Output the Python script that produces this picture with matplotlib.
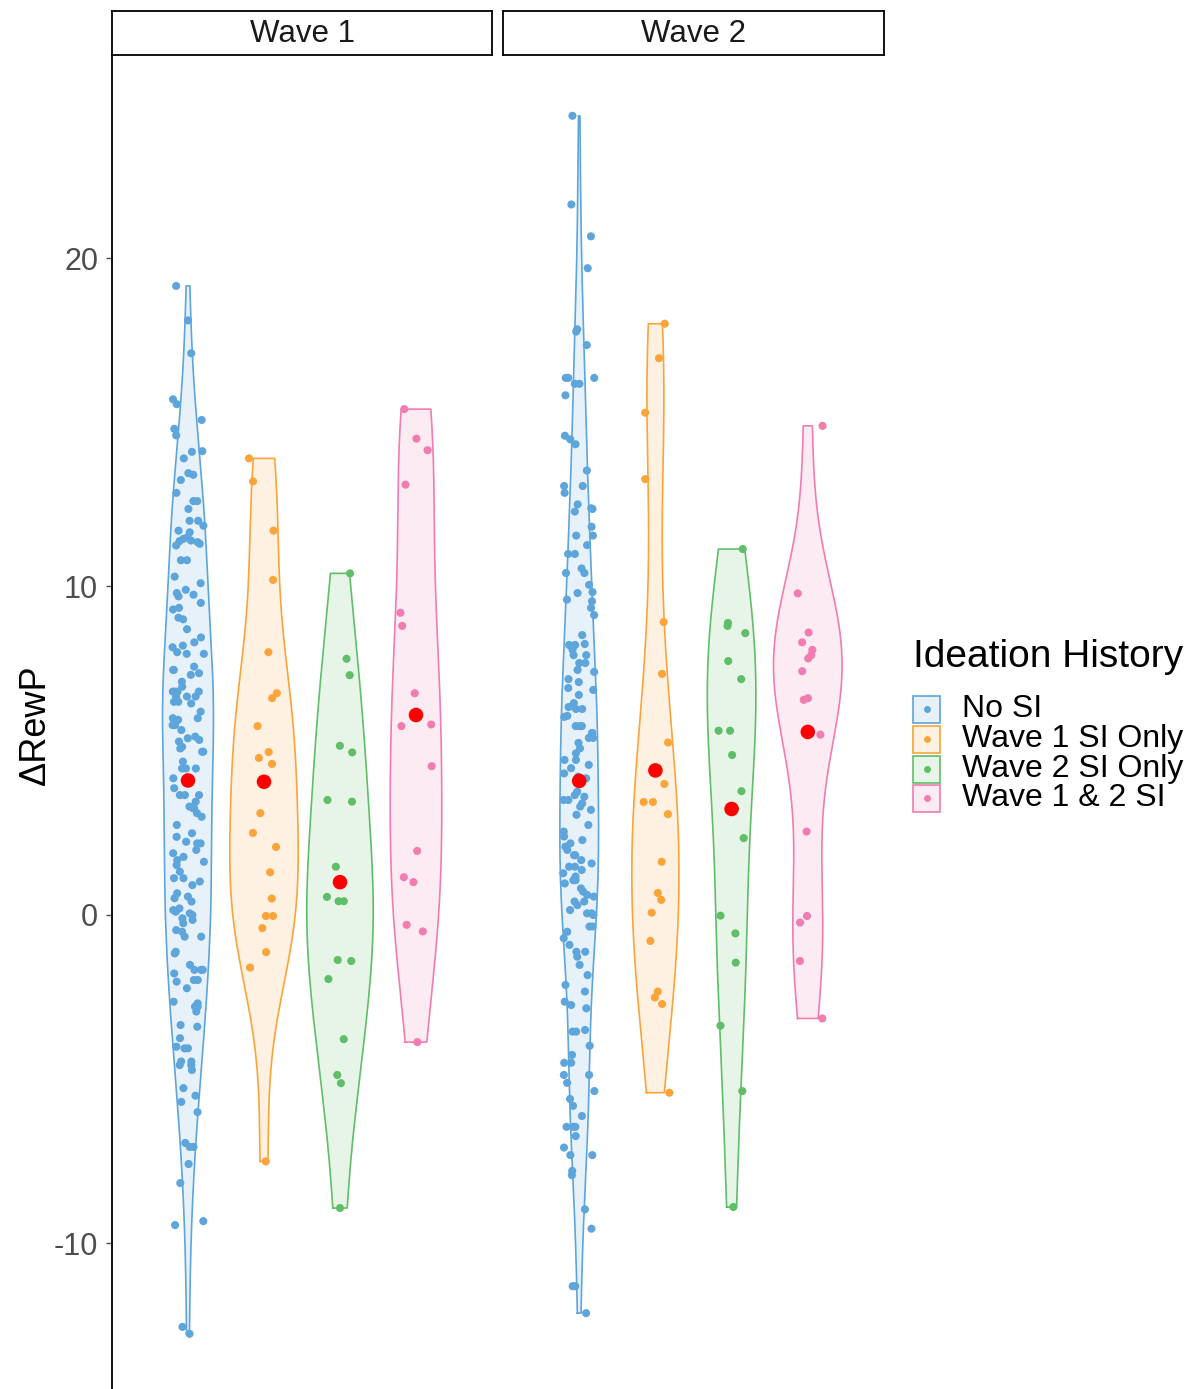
#
# Violin + jitter plot of delta RewP by ideation history, faceted by wave
#
import numpy as np
import matplotlib.pyplot as plt
from matplotlib.patches import Rectangle

plt.rcParams['font.family'] = ['Liberation Sans', 'DejaVu Sans']

# categories / facets
groups = ['No SI', 'Wave 1 SI Only', 'Wave 2 SI Only', 'Wave 1 & 2 SI']
colors = ['#5DA5DA', '#FAA43A', '#60BD68', '#F17CB0']
waves = ['Wave 1', 'Wave 2']
yticks = [-10, 0, 10, 20]

# Wave 1 values
w1_no_si = [19.15, 18.1, 17.1, 15.7, 15.55, 15.07, 14.8, 14.6, 14.12, 14.1, 13.9, 13.45, 13.4,
            13.24, 12.85, 12.6, 12.6, 12.36, 12.0, 12.0, 11.85, 11.7, 11.65, 11.5, 11.45, 11.4,
            11.38, 11.35, 11.3, 11.25, 10.8, 10.8, 10.3, 10.1, 9.9, 9.8, 9.75, 9.7, 9.5, 9.35,
            9.3, 9.05, 9.0, 8.7, 8.45, 8.3, 8.2, 8.15, 8.0, 7.95, 7.95,
            7.56, 7.46, 7.46, 7.36, 7.31, 7.10, 6.95, 6.80, 6.80, 6.80, 6.80, 6.65, 6.65, 6.65,
            6.49, 6.49, 6.44, 6.19, 5.99, 5.99, 5.94, 5.78, 5.78, 5.63, 5.43, 5.38, 5.33, 5.28,
            5.12, 5.07, 4.97, 4.97, 4.67, 4.46, 4.46, 4.46, 4.16, 3.86, 3.65, 3.65, 3.65, 3.45,
            3.30, 3.25, 3.25, 3.10, 2.99, 2.74, 2.49, 2.38, 2.23, 2.18, 2.18, 1.98, 1.88, 1.77,
            1.67, 1.62,
            1.52, 1.32, 1.12, 1.12, 1.02, 0.91, 0.66, 0.56, 0.51, 0.41, 0.20, 0.15, 0.10, 0.05,
            0.0, -0.10, -0.15, -0.25, -0.46, -0.51, -0.66, -0.66, -1.12, -1.17, -1.52, -1.67,
            -1.67, -1.67, -1.78, -1.98, -1.98, -2.03, -2.23, -2.64, -2.69, -2.79, -2.79, -2.94,
            -3.35, -3.40, -3.75, -4.01, -4.06, -4.06, -4.46, -4.46, -4.57, -4.57, -4.72,
            -5.27, -5.5, -5.69, -6.0, -6.94, -7.06, -7.06, -7.58, -8.16, -9.32, -9.44,
            -12.54, -12.75]
w1_w1_only = [13.9, 13.2, 11.7, 10.2, 8.0, 6.75, 6.6, 5.75, 4.96, 4.78, 4.6, 3.1, 2.5, 2.07,
              1.3, 0.5, -0.03, -0.03, -0.4, -1.13, -1.6, -7.5]
w1_w2_only = [10.4, 7.8, 7.3, 5.15, 4.95, 3.5, 3.45, 1.47, 0.55, 0.42, 0.42, -1.37, -1.4,
              -1.95, -3.78, -4.87, -5.12, -8.92]
w1_both = [15.4, 14.5, 14.15, 13.1, 9.2, 8.8, 6.75, 5.8, 5.75, 4.53, 1.95, 1.15, 1.0, -0.3,
           -0.5, -3.87]

# Wave 2 values
w2_no_si = [24.33, 21.63, 20.66, 19.69, 17.83, 17.76, 17.35, 16.35, 16.35, 16.35, 16.17,
            16.17, 15.82, 14.59, 14.48, 14.33, 13.53, 13.06, 13.06, 12.85, 12.5, 12.38, 12.36,
            12.28, 11.82, 11.55, 11.55, 11.26, 10.99, 10.99, 10.55, 10.41, 10.41,
            10.05, 9.83, 9.8, 9.6, 9.55, 9.35, 9.13, 8.52, 8.25, 8.22, 8.22, 8.07, 7.91, 7.91,
            7.67, 7.67, 7.46, 7.4, 7.18, 7.09, 6.91, 6.85, 6.7, 6.45, 6.33, 6.27, 6.27, 6.06,
            6.03, 5.75, 5.75, 5.75, 5.54, 5.54, 5.39, 5.39, 5.24,
            5.07, 4.92, 4.72, 4.72, 4.57, 4.47, 4.31, 4.21, 4.16, 3.75, 3.65, 3.6, 3.5, 3.5,
            3.4, 3.3, 3.2, 3.05, 2.74, 2.54, 2.39, 2.28, 2.18, 2.08, 1.98, 1.82, 1.82, 1.67,
            1.57, 1.47, 1.47, 1.37, 1.27, 1.17, 1.06, 1.06, 0.96, 0.81, 0.71, 0.61, 0.56, 0.41,
            0.41, 0.30, 0.15, 0.05, 0.05, 0.0, -0.35, -0.35, -0.51, -0.71, -0.91, -1.12, -1.12,
            -1.27, -1.52, -1.83, -2.13, -2.33, -2.64, -2.74, -2.84, -3.5, -3.55, -3.55,
            -3.98, -4.26, -4.5, -4.5, -4.87, -4.87, -5.11, -5.36, -5.6, -5.81, -6.12, -6.45,
            -6.45, -6.45, -6.73, -7.08, -7.31, -7.31, -7.79, -7.92, -8.96, -9.55, -11.3, -11.3,
            -12.12]
w2_w1_only = [18.0, 16.95, 15.29, 13.27, 8.92, 7.34, 5.25, 3.99, 3.44, 3.44, 3.07, 1.62, 0.67,
              0.46, 0.07, -0.79, -2.33, -2.51, -2.71, -5.41]
w2_w2_only = [11.14, 8.89, 8.8, 8.58, 7.73, 7.18, 5.61, 5.61, 4.87, 3.77, 2.34, -0.02, -0.56,
              -1.45, -3.37, -5.36, -8.89]
w2_both = [14.89, 9.79, 8.6, 8.3, 8.07, 7.91, 7.81, 7.42, 6.6, 6.55, 5.49, 2.54, -0.03, -0.23,
           -1.4, -3.15]

data = {'Wave 1': [w1_no_si, w1_w1_only, w1_w2_only, w1_both],
        'Wave 2': [w2_no_si, w2_w1_only, w2_w2_only, w2_both]}


def violin_shape(vals, n=512):
    # gaussian kde, bw.nrd0 like R, trimmed to data range
    v = np.asarray(vals, dtype=float)
    sd = v.std(ddof=1)
    q75, q25 = np.percentile(v, [75, 25])
    bw = 0.9 * min(sd, (q75 - q25) / 1.34) * len(v) ** -0.2
    grid = np.linspace(v.min(), v.max(), n)
    dens = np.exp(-0.5 * ((grid[:, None] - v[None, :]) / bw) ** 2).sum(1)
    dens = dens / (len(v) * bw * np.sqrt(2 * np.pi))
    return grid, dens


W, H = 1200, 1389
fig = plt.figure(figsize=(W / 100, H / 100), dpi=100)
fig.patch.set_facecolor('white')

ylo, yhi = -14.43, 26.18
panel_px = [(112, 492), (503, 884)]
top_px, strip_top = 55, 11
rng = np.random.default_rng(11)  # jitter only

for wi, wave in enumerate(waves):
    x0, x1 = panel_px[wi]
    ax = fig.add_axes([x0 / W, 0, (x1 - x0) / W, 1 - top_px / H])
    ax.set_xlim(0, 5)
    ax.set_ylim(ylo, yhi)
    ax.set_facecolor('none')

    shapes = [violin_shape(v) for v in data[wave]]
    dmax = max(d.max() for _, d in shapes)
    for gi, vals in enumerate(data[wave]):
        xc = gi + 1
        grid, dens = shapes[gi]
        hw = dens / dmax * 0.45
        ax.fill_betweenx(grid, xc - hw, xc + hw, facecolor=colors[gi], alpha=0.15,
                         linewidth=0, zorder=1)
        ox = np.concatenate([xc - hw, (xc + hw)[::-1], [xc - hw[0]]])
        oy = np.concatenate([grid, grid[::-1], [grid[0]]])
        ax.plot(ox, oy, color=colors[gi], lw=1.2, zorder=2)
        jit = rng.uniform(-0.21, 0.21, len(vals))
        ax.scatter(xc + jit, vals, s=34, color=colors[gi], edgecolor='none', zorder=3)
        ax.scatter([xc], [np.mean(vals)], s=110, color='red', edgecolor='none', zorder=4)

    ax.set_xticks([])
    for sp in ['top', 'right', 'bottom']:
        ax.spines[sp].set_visible(False)
    if wi == 0:
        ax.spines['left'].set_linewidth(1.3)
        ax.spines['left'].set_color('black')
        ax.set_yticks(yticks)
        ax.set_yticklabels([str(t) for t in yticks])
        ax.tick_params(axis='y', labelsize=22, colors='#4D4D4D', length=4, width=1,
                       pad=6)
    else:
        ax.spines['left'].set_visible(False)
        ax.set_yticks([])

    # facet strip
    sax = fig.add_axes([x0 / W, 1 - top_px / H, (x1 - x0) / W, (top_px - strip_top) / H])
    sax.set_xticks([])
    sax.set_yticks([])
    sax.set_facecolor('white')
    for sp in sax.spines.values():
        sp.set_linewidth(1.3)
        sp.set_color('black')
    sax.text(0.5, 0.47, wave, ha='center', va='center', fontsize=22.5, color='#1A1A1A',
             transform=sax.transAxes)

# y label
fig.text(35 / W, 1 - 725 / H, '\u0394RewP', rotation=90, ha='center', va='center',
         fontsize=26, color='black')

# legend
fig.text(913 / W, 1 - 657 / H, 'Ideation History', ha='left', va='center', fontsize=28,
         color='black')
row_y = [709, 739, 769, 798]
for gi, g in enumerate(groups):
    cy = row_y[gi]
    fig.add_artist(Rectangle((913 / W, 1 - (cy + 13.5) / H), 27 / W, 27 / H,
                             transform=fig.transFigure, facecolor=colors[gi], alpha=0.15,
                             edgecolor='none'))
    fig.add_artist(Rectangle((913 / W, 1 - (cy + 13.5) / H), 27 / W, 27 / H,
                             transform=fig.transFigure, facecolor='none',
                             edgecolor=colors[gi], lw=1.2))
    fig.add_artist(plt.Line2D([926.5 / W], [1 - cy / H], marker='o', markersize=5,
                              color=colors[gi], markeredgecolor='none',
                              transform=fig.transFigure))
    fig.text(962 / W, 1 - cy / H, g, ha='left', va='center', fontsize=23, color='black')

fig.savefig('out.png', dpi=100)
